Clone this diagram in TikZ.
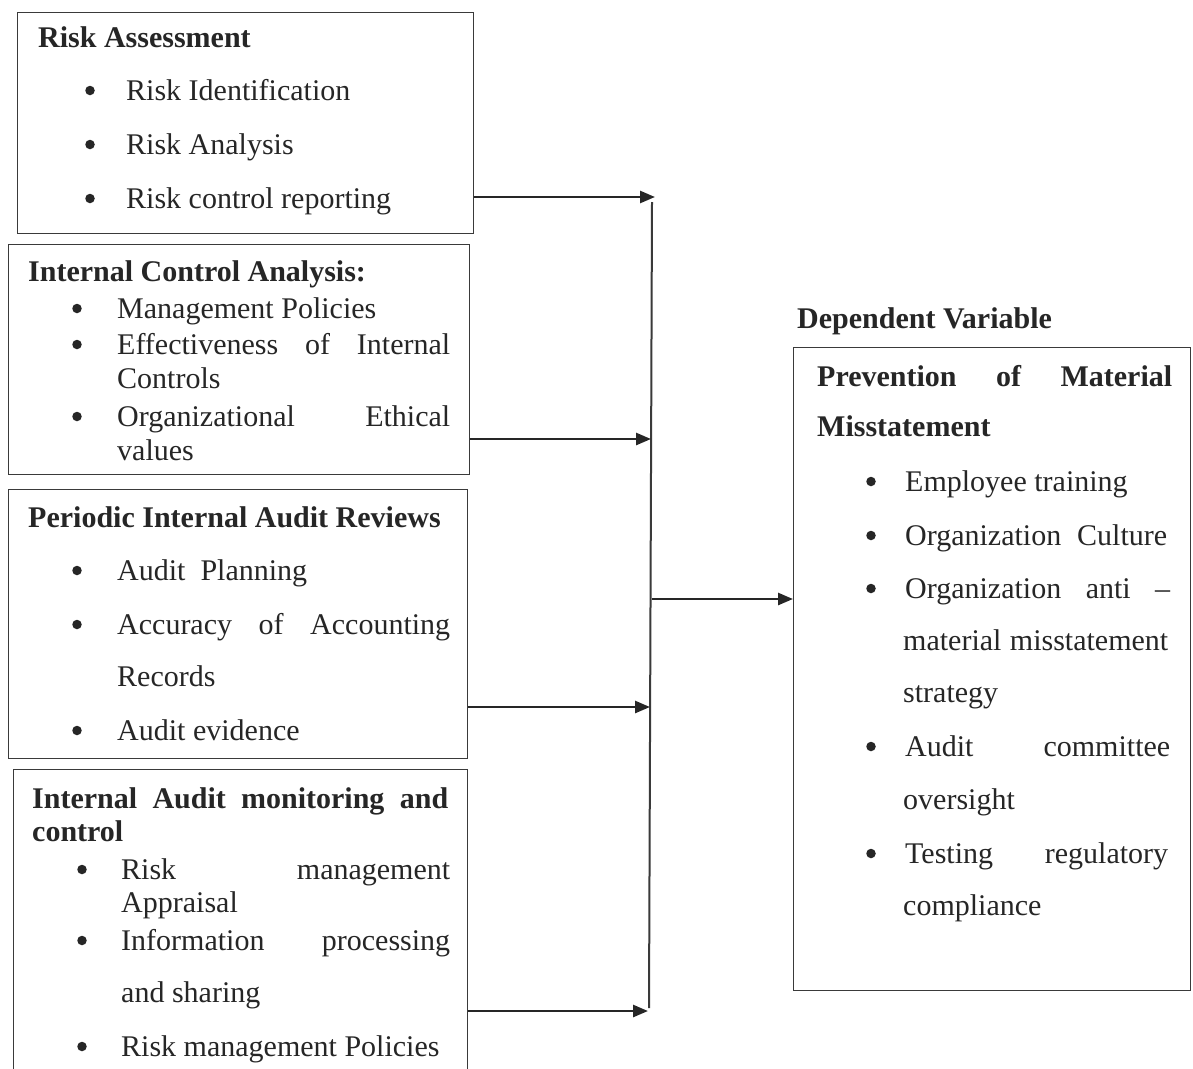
\documentclass[tikz,border=0pt]{standalone}
\usepackage{fontspec}
\setmainfont{Liberation Serif}
\usetikzlibrary{arrows.meta}
\definecolor{ink}{HTML}{262626}
\definecolor{rule}{HTML}{3A3A3A}
\tikzset{
  boxnode/.style={draw=rule, line width=1.3pt, anchor=north west, inner sep=0pt, rectangle},
  txt/.style={anchor=base west, inner sep=0pt, text=ink, font=\fontsize{30}{36}\selectfont},
  hd/.style={txt, font=\fontsize{30}{36}\selectfont\bfseries},
  bul/.style={circle, fill=ink, inner sep=0pt, minimum size=9.5pt, yshift=9.5pt},
  arr/.style={draw=ink, line width=2.6pt, -{Triangle[length=15pt,width=12pt]}},
  joinline/.style={draw=rule, line width=2pt}
}
\newcommand{\jline}[2]{\hbox to #1pt{#2}}
\begin{document}
\begin{tikzpicture}[x=1pt,y=-1pt]
\clip (0,0) rectangle (1193,1068);
\fill[white] (0,0) rectangle (1193,1068);

% boxes
\node[boxnode, minimum width=456pt, minimum height=221pt] (b1) at (17,12) {};
\node[boxnode, minimum width=461pt, minimum height=230pt] (b2) at (8,244) {};
\node[boxnode, minimum width=459pt, minimum height=269pt] (b3) at (8,489) {};
\node[boxnode, minimum width=454pt, minimum height=320pt] (b4) at (13,769) {};
\node[boxnode, minimum width=397pt, minimum height=643pt] (dv) at (793,347) {};

% box 1
\node[hd] (t1) at (38,47) {Risk Assessment};
\node[bul] (u11) at (90,100) {};
\node[txt] (t11) at (126,100) {Risk Identification};
\node[bul] (u12) at (90,154) {};
\node[txt] (t12) at (126,154) {Risk Analysis};
\node[bul] (u13) at (90,208) {};
\node[txt] (t13) at (126,208) {Risk control reporting};

% box 2
\node[hd] (t2) at (28,281) {Internal Control Analysis:};
\node[bul] (u21) at (77,318) {};
\node[txt] (t21) at (117,318) {Management Policies};
\node[bul] (u22) at (77,354) {};
\node[txt] (t22) at (117,354) {\jline{333}{Effectiveness\hfill of\hfill Internal}};
\node[txt] (t22b) at (117,388) {Controls};
\node[bul] (u23) at (77,426) {};
\node[txt] (t23) at (117,426) {\jline{333}{Organizational\hfill Ethical}};
\node[txt] (t23b) at (117,460) {values};

% box 3
\node[hd] (t3) at (28,527) {Periodic Internal Audit Reviews};
\node[bul] (u31) at (77,580) {};
\node[txt] (t31) at (117,580) {Audit\ \ Planning};
\node[bul] (u32) at (77,634) {};
\node[txt] (t32) at (117,634) {\jline{333}{Accuracy\hfill of\hfill Accounting}};
\node[txt] (t32b) at (117,686) {Records};
\node[bul] (u33) at (77,740) {};
\node[txt] (t33) at (117,740) {Audit evidence};

% box 4
\node[hd] (t4) at (32,808) {\jline{416}{Internal\hfill Audit\hfill monitoring\hfill and}};
\node[hd] (t4b) at (32,841) {control};
\node[bul] (u41) at (82,879) {};
\node[txt] (t41) at (121,879) {\jline{329}{Risk\hfill management}};
\node[txt] (t41b) at (121,912) {Appraisal};
\node[bul] (u42) at (82,950) {};
\node[txt] (t42) at (121,950) {\jline{329}{Information\hfill processing}};
\node[txt] (t42b) at (121,1002) {and sharing};
\node[bul] (u43) at (82,1056) {};
\node[txt] (t43) at (121,1056) {Risk management Policies};

% dependent variable
\node[hd] (dvl) at (797,328) {Dependent Variable};
\node[hd] (d0) at (817,386) {\jline{355}{Prevention\hfill of\hfill Material}};
\node[hd] (d0b) at (817,436) {Misstatement};
\node[bul] (v1) at (871,491) {};
\node[txt] (d1) at (905,491) {Employee training};
\node[bul] (v2) at (871,545) {};
\node[txt] (d2) at (905,545) {\jline{262}{Organization\hfill Culture}};
\node[bul] (v3) at (871,598) {};
\node[txt] (d3) at (905,598) {\jline{265}{Organization\hfill anti\hfill --}};
\node[txt] (d3b) at (903,650) {\jline{265}{material\hfill misstatement}};
\node[txt] (d3c) at (903,702) {strategy};
\node[bul] (v4) at (871,756) {};
\node[txt] (d4) at (905,756) {\jline{265}{Audit\hfill committee}};
\node[txt] (d4b) at (903,809) {oversight};
\node[bul] (v5) at (871,863) {};
\node[txt] (d5) at (905,863) {\jline{263}{Testing\hfill regulatory}};
\node[txt] (d5b) at (903,915) {compliance};

% connectors
\coordinate (jt) at (652,202);
\coordinate (jb) at (649,1008);
\coordinate (j1) at (655,197);
\coordinate (j2) at (651,439);
\coordinate (j3) at (650,707);
\coordinate (j4) at (648,1011);
\coordinate (jo) at (652,599);
\draw[joinline] (jt) -- (jb);
\draw[arr] (b1.east |- j1) -- (j1);
\draw[arr] (b2.east |- j2) -- (j2);
\draw[arr] (b3.east |- j3) -- (j3);
\draw[arr] (b4.east |- j4) -- (j4);
\draw[arr] (jo) -- (dv.west |- jo);
\end{tikzpicture}
\end{document}
